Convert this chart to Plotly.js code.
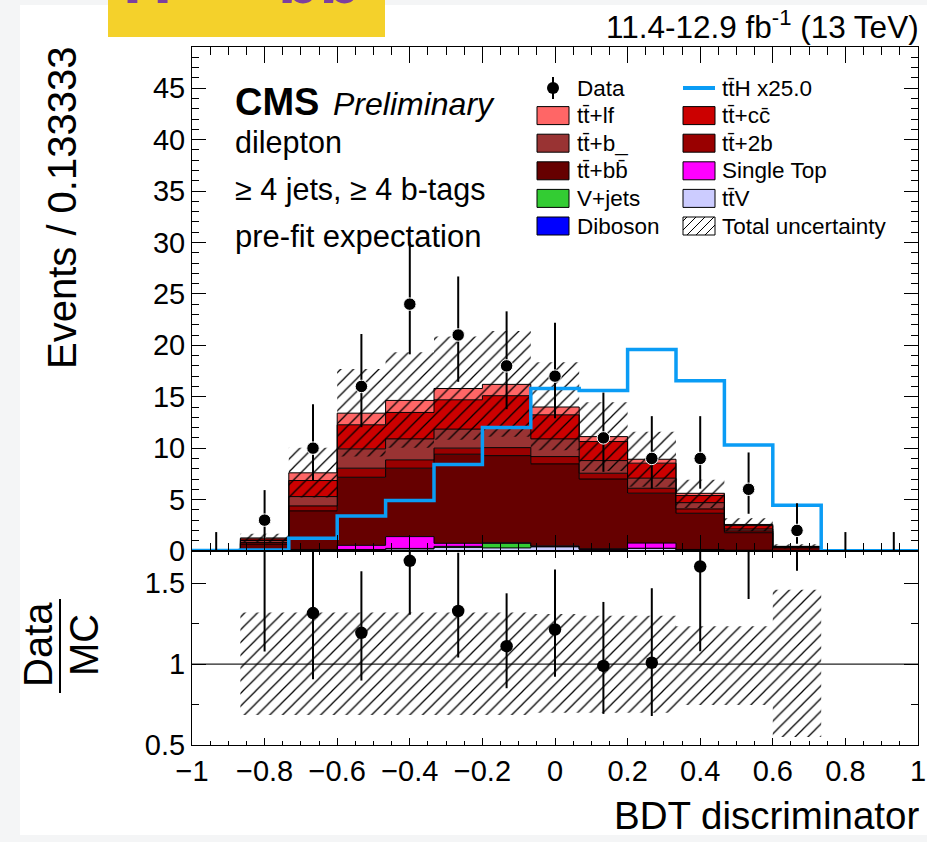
<!DOCTYPE html>
<html>
<head>
<meta charset="utf-8">
<script src="https://cdn.plot.ly/plotly-3.0.1.min.js"></script>
<style>
  html, body { margin: 0; padding: 0; background: #f4f5f6; }
  #chart { width: 927px; height: 842px; }
</style>
</head>
<body>
<div id="chart"></div>
<script>
// ---- Binning of the BDT discriminator: 15 equal bins on [-1, 1] ----
const nBins = 15;
const xMin = -1;
const xMax = 1;

// ---- Pre-fit expected yields per bin (stacked, bottom to top) ----
const diboson   = [0, 0,    0,    0,    0,    0,    0,    0,    0,    0,    0,    0,    0,    0, 0];
const ttV       = [0, 0.02, 0.05, 0.10, 0.20, 0.35, 0.30, 0.40, 0.15, 0.25, 0.10, 0.05, 0.02, 0, 0];
const vJets     = [0, 0,    0,    0.05, 0.05, 0.10, 0.45, 0.05, 0.02, 0.02, 0,    0,    0,    0, 0];
const singleTop = [0, 0.05, 0.10, 0.40, 1.15, 0.30, 0.05, 0.05, 0.05, 0.50, 0.05, 0.03, 0,    0, 0];
const ttbb      = [0, 0.60, 3.75, 6.62, 6.65, 8.66, 8.47, 7.97, 6.78, 4.85, 3.52, 1.70, 0.30, 0, 0];
const tt2b      = [0, 0.15, 0.48, 0.88, 0.81, 0.59, 0.78, 0.71, 0.56, 0.48, 0.42, 0.17, 0.04, 0, 0];
const ttb       = [0, 0.20, 0.91, 1.88, 2.04, 1.85, 1.95, 1.72, 1.23, 0.98, 0.61, 0.19, 0.04, 0, 0];
const ttcc      = [0, 0.15, 1.56, 2.34, 2.57, 2.85, 3.10, 2.34, 1.85, 1.46, 0.69, 0.33, 0.04, 0, 0];
const ttlf      = [0, 0.10, 0.75, 1.13, 1.17, 1.10, 1.10, 0.76, 0.48, 0.38, 0.22, 0.11, 0.01, 0, 0];

// ---- ttH signal, scaled x25 ----
const ttHx25 = [0.05, 0.10, 1.25, 3.40, 4.90, 8.40, 12.0, 15.8, 15.6, 19.6, 16.55, 10.3, 4.45, 0.02, 0.02];

// ---- Observed data with asymmetric Poisson errors ----
const dataCounts = [0, 3, 10, 16, 24, 21, 18, 17, 11, 9, 9, 6, 2, 0, 0];
const dataErrLow  = [0, 1.63, 3.11, 3.96, 4.88, 4.55, 4.21, 4.10, 3.30, 2.94, 2.94, 2.38, 1.29, 0, 0];
const dataErrHigh = [1.84, 2.92, 4.26, 5.10, 6.00, 5.69, 5.30, 5.20, 4.40, 4.11, 4.11, 3.58, 2.64, 1.84, 1.84];

// ---- Total uncertainty, relative to the expectation (null = empty bin) ----
const uncRelHigh = [null, 1.32, 1.32, 1.32, 1.32, 1.32, 1.32, 1.31, 1.30, 1.30, 1.235, 1.235, 1.46, null, null];
const uncRelLow  = [null, 0.685, 0.685, 0.685, 0.685, 0.685, 0.685, 0.70, 0.70, 0.70, 0.747, 0.747, 0.55, null, null];

// ---- Derived quantities ----
const edges = Array.from({length: nBins + 1}, (_, i) => xMin + i * (xMax - xMin) / nBins);
const centers = edges.slice(0, -1).map((e, i) => (e + edges[i + 1]) / 2);
const stepY = arr => arr.concat([arr[arr.length - 1]]);

const FONT = 'Liberation Sans, Arial, Helvetica, sans-serif';
const TTH_BLUE = '#0a9cf5';

const components = [
  {name: 'Diboson',    values: diboson,   color: '#0000ff'},
  {name: 'tt\u0304V',  values: ttV,       color: '#ccccff'},
  {name: 'V+jets',     values: vJets,     color: '#33cc33'},
  {name: 'Single Top', values: singleTop, color: '#ff00ff'},
  {name: 'tt\u0304+bb\u0304', values: ttbb, color: '#660000'},
  {name: 'tt\u0304+2b', values: tt2b,     color: '#990000'},
  {name: 'tt\u0304+b_', values: ttb,      color: '#993333'},
  {name: 'tt\u0304+cc\u0304', values: ttcc, color: '#cc0000'},
  {name: 'tt\u0304+lf', values: ttlf,     color: '#ff6666'}
];

const traces = [];
let cumulative = new Array(nBins).fill(0);
components.forEach((c, k) => {
  cumulative = cumulative.map((v, i) => v + c.values[i]);
  traces.push({
    type: 'scatter', mode: 'lines', name: c.name,
    x: edges, y: stepY(cumulative),
    line: {shape: 'hv', color: '#000', width: 1},
    fill: k === 0 ? 'tozeroy' : 'tonexty', fillcolor: c.color,
    xaxis: 'x', yaxis: 'y', showlegend: false, hoverinfo: 'skip'
  });
});
const total = cumulative.slice();

// hatched band helper: lower edge trace + upper edge trace filled to it
const hatch = {shape: '/', size: 9, solidity: 0.14, fgcolor: '#000', bgcolor: 'rgba(0,0,0,0)', fgopacity: 1};
const bandIdx = uncRelHigh.map((v, i) => v === null ? -1 : i).filter(i => i >= 0);
const bandEdges = edges.slice(bandIdx[0], bandIdx[bandIdx.length - 1] + 2);
function addBand(lowVals, highVals, xa, ya) {
  traces.push({
    type: 'scatter', mode: 'lines', x: bandEdges, y: stepY(lowVals),
    line: {shape: 'hv', width: 0, color: 'rgba(0,0,0,0)'},
    xaxis: xa, yaxis: ya, showlegend: false, hoverinfo: 'skip'
  });
  traces.push({
    type: 'scatter', mode: 'lines', x: bandEdges, y: stepY(highVals),
    line: {shape: 'hv', width: 0, color: 'rgba(0,0,0,0)'},
    fill: 'tonexty', fillcolor: 'rgba(0,0,0,0)', fillpattern: hatch,
    xaxis: xa, yaxis: ya, showlegend: false, hoverinfo: 'skip'
  });
}
addBand(bandIdx.map(i => total[i] * uncRelLow[i]), bandIdx.map(i => total[i] * uncRelHigh[i]), 'x', 'y');

// ttH x25 outline
traces.push({
  type: 'scatter', mode: 'lines', name: 'tt\u0304H x25.0',
  x: edges, y: stepY(ttHx25),
  line: {shape: 'hv', color: TTH_BLUE, width: 3.5},
  xaxis: 'x', yaxis: 'y', showlegend: false, hoverinfo: 'skip'
});

// data points (empty bins keep their error bar only)
traces.push({
  type: 'scatter', mode: 'markers', name: 'Data',
  x: centers, y: dataCounts,
  marker: {color: '#000', opacity: 1, size: dataCounts.map(n => n > 0 ? 12.5 : 0)},
  error_y: {type: 'data', symmetric: false, array: dataErrHigh, arrayminus: dataErrLow,
            color: '#000', thickness: 2, width: 0},
  xaxis: 'x', yaxis: 'y', showlegend: false, hoverinfo: 'skip'
});

// ratio panel: uncertainty band and data / MC
addBand(bandIdx.map(i => uncRelLow[i]), bandIdx.map(i => uncRelHigh[i]), 'x2', 'y2');
const ratio = dataCounts.map((n, i) => total[i] > 0 ? n / total[i] : null);
traces.push({
  type: 'scatter', mode: 'markers', name: 'Data/MC',
  x: centers, y: ratio,
  marker: {color: '#000', opacity: 1, size: 12.5},
  error_y: {type: 'data', symmetric: false,
            array: dataErrHigh.map((e, i) => total[i] > 0 ? e / total[i] : 0),
            arrayminus: dataErrLow.map((e, i) => total[i] > 0 ? e / total[i] : 0),
            color: '#000', thickness: 2, width: 0},
  xaxis: 'x2', yaxis: 'y2', showlegend: false, hoverinfo: 'skip'
});

// ---- Page geometry (pixels) ----
const W = 927, H = 842;
const M = {l: 192, r: 9, t: 47, b: 97};
const plotW = W - M.l - M.r, plotH = H - M.t - M.b;
const px = v => (v - M.l) / plotW;          // pixel column -> paper x
const py = v => (H - M.b - v) / plotH;      // pixel row -> paper y
const splitRow = 551;
const ratioTop = py(splitRow);

const shapes = [];
const annotations = [];

// white page area and header banner
shapes.push({type: 'rect', xref: 'paper', yref: 'paper', layer: 'below',
  x0: px(20), x1: px(930), y0: py(835), y1: py(5), fillcolor: '#ffffff', line: {width: 0}});
shapes.push({type: 'rect', xref: 'paper', yref: 'paper', layer: 'below',
  x0: px(108), x1: px(385), y0: py(37), y1: py(-5), fillcolor: '#f4d12b', line: {width: 0}});
annotations.push({xref: 'paper', yref: 'paper', x: px(121), y: py(-21), xanchor: 'left', yanchor: 'middle',
  text: '<b>H \u2192 bb</b>', showarrow: false, font: {family: FONT, size: 68, color: '#7d3f9f'}});

// ratio = 1 reference line
shapes.push({type: 'line', xref: 'x2', yref: 'y2', x0: xMin, x1: xMax, y0: 1, y1: 1,
  line: {color: '#222', width: 1.2}, layer: 'below'});

function txt(text, x, y, size, opts) {
  annotations.push(Object.assign({xref: 'paper', yref: 'paper', x: px(x), y: py(y),
    xanchor: 'left', yanchor: 'middle', text: text, showarrow: false,
    font: {family: FONT, size: size, color: '#000'}}, opts || {}));
}

// header texts
txt('11.4-12.9 fb<sup>-1</sup> (13 TeV)', 921, 25, 31.5, {xanchor: 'right'});
txt('<b>CMS</b>', 233, 102, 38);
txt('<i>Preliminary</i>', 331, 104, 32);
txt('dilepton', 233, 143, 30.5);
txt('\u2265 4 jets, \u2265 4 b-tags', 233, 189, 30.5);
txt('pre-fit expectation', 233, 236, 31);

// axis titles
txt('Events / 0.133333', 62, 45, 40, {xanchor: 'center', yanchor: 'top', textangle: -90});
txt('Data', 38, 645, 40, {xanchor: 'center', textangle: -90});
txt('MC', 84, 645, 40, {xanchor: 'center', textangle: -90});
shapes.push({type: 'line', xref: 'paper', yref: 'paper', x0: px(60), x1: px(60), y0: py(599), y1: py(693),
  line: {color: '#000', width: 2}});
txt('BDT discriminator', 921, 815, 38.5, {xanchor: 'right'});

// ---- Legend (two columns) ----
const legRow0 = 88, legStep = 27.6;
const colBox = [537, 683], colText = [575, 720];
const boxW = 32, boxH = 18;
const legendItems = [
  {kind: 'data', label: 'Data'},
  {kind: 'line', label: 'tt\u0304H x25.0', color: TTH_BLUE},
  {kind: 'box', label: 'tt\u0304+lf', color: '#ff6666'},
  {kind: 'box', label: 'tt\u0304+cc\u0304', color: '#cc0000'},
  {kind: 'box', label: 'tt\u0304+b_', color: '#993333'},
  {kind: 'box', label: 'tt\u0304+2b', color: '#990000'},
  {kind: 'box', label: 'tt\u0304+bb\u0304', color: '#660000'},
  {kind: 'box', label: 'Single Top', color: '#ff00ff'},
  {kind: 'box', label: 'V+jets', color: '#33cc33'},
  {kind: 'box', label: 'tt\u0304V', color: '#ccccff'},
  {kind: 'box', label: 'Diboson', color: '#0000ff'},
  {kind: 'hatch', label: 'Total uncertainty'}
];
legendItems.forEach((it, k) => {
  const col = k % 2, row = Math.floor(k / 2);
  const yc = legRow0 + row * legStep;
  const x0 = colBox[col], x1 = x0 + boxW;
  if (it.kind === 'box' || it.kind === 'hatch') {
    shapes.push({type: 'rect', xref: 'paper', yref: 'paper',
      x0: px(x0), x1: px(x1), y0: py(yc + boxH / 2), y1: py(yc - boxH / 2),
      fillcolor: it.kind === 'box' ? it.color : '#ffffff', line: {color: '#000', width: 1}});
    if (it.kind === 'hatch') {
      // diagonal hatch strokes clipped to the swatch
      const top = yc - boxH / 2, bot = yc + boxH / 2;
      let path = '';
      for (let s = x0 - boxH + 4; s < x1; s += 9) {
        let ax = s, ay = bot, bx = s + boxH, by = top;
        if (ax < x0) { ay = bot - (x0 - ax); ax = x0; }
        if (bx > x1) { by = top + (bx - x1); bx = x1; }
        if (bx - ax > 1) path += `M${px(ax)},${py(ay)}L${px(bx)},${py(by)}`;
      }
      shapes.push({type: 'path', xref: 'paper', yref: 'paper', path: path, line: {color: '#000', width: 1}});
    }
  } else if (it.kind === 'line') {
    shapes.push({type: 'line', xref: 'paper', yref: 'paper', x0: px(x0), x1: px(x1), y0: py(yc), y1: py(yc),
      line: {color: it.color, width: 4}});
  } else if (it.kind === 'data') {
    const xc = (x0 + x1) / 2;
    shapes.push({type: 'line', xref: 'paper', yref: 'paper', x0: px(xc), x1: px(xc), y0: py(yc - 11), y1: py(yc + 11),
      line: {color: '#000', width: 2}});
    shapes.push({type: 'circle', xref: 'paper', yref: 'paper', x0: px(xc - 6), x1: px(xc + 6), y0: py(yc + 6), y1: py(yc - 6),
      fillcolor: '#000', line: {color: '#000', width: 0}});
  }
  txt(it.label, colText[col], yc, 22.5);
});

// ---- Axes ----
const axisCommon = {
  showline: true, linecolor: '#000', linewidth: 1, mirror: 'ticks',
  ticks: 'inside', tickcolor: '#000', tickwidth: 1,
  showgrid: false, zeroline: false, fixedrange: true,
  tickfont: {family: FONT, size: 29, color: '#000'}
};

const layout = {
  width: W, height: H,
  margin: M,
  paper_bgcolor: '#f4f5f6', plot_bgcolor: 'rgba(0,0,0,0)',
  showlegend: false,
  font: {family: FONT, color: '#000'},
  xaxis: Object.assign({}, axisCommon, {
    anchor: 'y', domain: [0, 1], range: [xMin, xMax], tick0: -1, dtick: 0.2, ticklen: 16,
    showticklabels: false,
    minor: {ticks: 'inside', dtick: 0.05, ticklen: 8, tickcolor: '#000', tickwidth: 1, showgrid: false}
  }),
  yaxis: Object.assign({}, axisCommon, {
    anchor: 'x', domain: [ratioTop, 1], range: [0, 49], tick0: 0, dtick: 5, ticklen: 14,
    minor: {ticks: 'inside', dtick: 1, ticklen: 7, tickcolor: '#000', tickwidth: 1, showgrid: false}
  }),
  xaxis2: Object.assign({}, axisCommon, {
    anchor: 'y2', domain: [0, 1], range: [xMin, xMax], tick0: -1, dtick: 0.2, ticklen: 7,
    minor: {ticks: 'inside', dtick: 0.05, ticklen: 4, tickcolor: '#000', tickwidth: 1, showgrid: false}
  }),
  yaxis2: Object.assign({}, axisCommon, {
    anchor: 'x2', domain: [0, ratioTop], range: [0.5, 1.7],
    tickvals: [0.5, 1, 1.5], ticktext: ['0.5', '1', '1.5'], ticklen: 14,
    minor: {ticks: 'inside', tickvals: [0.75, 1.25], ticklen: 7, tickcolor: '#000', tickwidth: 1, showgrid: false}
  }),
  shapes: shapes,
  annotations: annotations
};

Plotly.newPlot('chart', traces, layout, {displayModeBar: false, staticPlot: true});
</script>
</body>
</html>
